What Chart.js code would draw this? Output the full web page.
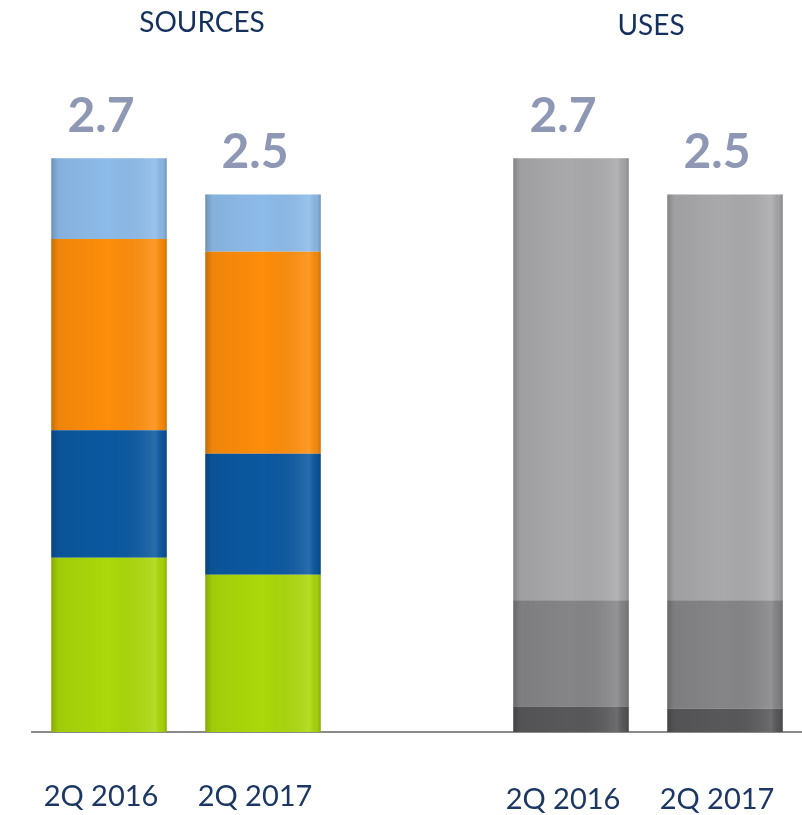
<!DOCTYPE html>
<html>
<head>
<meta charset="utf-8">
<script src="https://cdn.jsdelivr.net/npm/chart.js@4"></script>
<style>
  html, body { margin: 0; padding: 0; background: #fff; }
  #wrap { width: 802px; height: 815px; position: relative; }
</style>
</head>
<body>
<div id="wrap"><canvas id="myChart"></canvas></div>
<script>
// categories: two sources bars, an empty gap slot, two uses bars
const categories = ['2Q 2016', '2Q 2017', '', '2Q 2016', '2Q 2017'];
const groupTitles = ['SOURCES', 'USES'];

// sources segments, bottom to top
const srcGreen = [0.82, 0.74];
const srcBlue = [0.60, 0.57];
const srcOrange = [0.90, 0.95];
const srcLightBlue = [0.38, 0.27];

// uses segments, bottom to top
const useDark = [0.12, 0.11];
const useMid = [0.50, 0.51];
const useLight = [2.08, 1.91];

window.onload = () => {
  const src = (arr) => [arr[0], arr[1], null, null, null];
  const use = (arr) => [null, null, null, arr[0], arr[1]];

  const datasets = [
    { label: 'green', data: src(srcGreen), backgroundColor: '#abd80a' },
    { label: 'blue', data: src(srcBlue), backgroundColor: '#0b58a0' },
    { label: 'orange', data: src(srcOrange), backgroundColor: '#fd8d0b' },
    { label: 'light blue', data: src(srcLightBlue), backgroundColor: '#8dbbe9' },
    { label: 'dark', data: use(useDark), backgroundColor: '#58585a' },
    { label: 'mid', data: use(useMid), backgroundColor: '#858587' },
    { label: 'light', data: use(useLight), backgroundColor: '#a9a9ac' }
  ].map(d => Object.assign(d, { stack: 's', barPercentage: 0.75, categoryPercentage: 1 }));

  // soft shading over each bar so it looks a bit like the 3d columns
  const shadePlugin = {
    id: 'shadePlugin',
    afterDatasetsDraw(chart) {
      const { ctx } = chart;
      chart.data.datasets.forEach((d, di) => {
        chart.getDatasetMeta(di).data.forEach((bar, i) => {
          if (d.data[i] == null) return;
          const left = bar.x - bar.width / 2;
          const g = ctx.createLinearGradient(left, 0, left + bar.width, 0);
          g.addColorStop(0, 'rgba(0,0,0,0.22)');
          g.addColorStop(0.06, 'rgba(0,0,0,0.06)');
          g.addColorStop(0.5, 'rgba(0,0,0,0)');
          g.addColorStop(0.9, 'rgba(255,255,255,0.12)');
          g.addColorStop(0.97, 'rgba(0,0,0,0.05)');
          g.addColorStop(1, 'rgba(0,0,0,0.2)');
          ctx.save();
          ctx.fillStyle = g;
          ctx.fillRect(left, bar.y, bar.width, bar.base - bar.y);
          ctx.restore();
        });
      });
    }
  };

  const labelsPlugin = {
    id: 'labelsPlugin',
    afterDraw(chart) {
      const { ctx } = chart;
      const x = chart.scales.x;
      const y = chart.scales.y;
      ctx.save();
      ctx.textAlign = 'center';

      // group titles
      ctx.fillStyle = '#14305c';
      ctx.font = '28px Lato';
      ctx.textBaseline = 'middle';
      ctx.fillText(groupTitles[0], (x.getPixelForValue(0) + x.getPixelForValue(1)) / 2 + 16, 23);
      ctx.fillText(groupTitles[1], (x.getPixelForValue(3) + x.getPixelForValue(4)) / 2 + 3, 26);

      // category labels under the axis
      ctx.fillStyle = '#1c3862';
      ctx.font = '29px Lato';
      categories.forEach((c, i) => {
        if (!c) return;
        ctx.fillText(c, x.getPixelForValue(i) - 8, y.bottom + (i < 2 ? 65 : 68));
      });

      // totals above bars
      ctx.fillStyle = '#8e97b4';
      ctx.font = 'bold 48px Lato';
      ctx.textBaseline = 'bottom';
      const totals = [0, 1, 2, 3, 4].map(i =>
        chart.data.datasets.reduce((s, d) => s + (d.data[i] || 0), 0));
      totals.forEach((t, i) => {
        if (!t) return;
        ctx.fillText(t.toFixed(1), x.getPixelForValue(i) - 8, y.getPixelForValue(t) - 18);
      });
      ctx.restore();
    }
  };

  const ctx = document.querySelector('#myChart').getContext('2d');
  new Chart(ctx, {
    type: 'bar',
    data: { labels: categories, datasets },
    options: {
      responsive: true,
      maintainAspectRatio: false,
      animation: false,
      layout: { padding: { top: 52, left: 32, right: 0, bottom: 0 } },
      plugins: { legend: { display: false }, tooltip: { enabled: false } },
      scales: {
        x: {
          stacked: true,
          grid: { display: false },
          border: { display: true, color: '#8a8a8a', width: 2 },
          ticks: { display: false },
          afterFit: (s) => { s.height = 83; }
        },
        y: {
          stacked: true,
          display: false,
          min: 0,
          max: 3.2
        }
      }
    },
    plugins: [shadePlugin, labelsPlugin]
  });
};
</script>
</body>
</html>
